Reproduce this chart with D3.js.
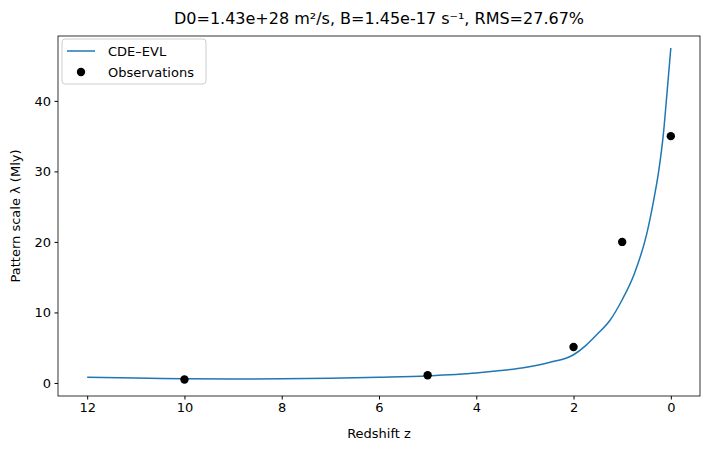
<!DOCTYPE html>
<html><head><meta charset="utf-8">
<script src="https://cdn.jsdelivr.net/npm/d3@7"></script>
<style>body{margin:0;background:#fff;font-family:"DejaVu Sans",sans-serif}</style>
</head><body><svg id="chart" width="710" height="449"></svg>
<script>
var curveZ = [12, 11, 10, 9, 8, 7, 6, 5, 4, 3.5, 3, 2.5, 2, 1.75, 1.5, 1.25, 1, 0.75, 0.5, 0.35, 0.25, 0.15, 0.08, 0];
var curveL = [0.8, 0.7, 0.6, 0.55, 0.58, 0.65, 0.8, 1.0, 1.4, 1.75, 2.2, 2.9, 4.0, 5.3, 7.0, 8.9, 11.8, 15.5, 21, 26, 30, 35.5, 41, 47.5];
var obsZ = [10, 5, 2, 1, 0];
var obsL = [0.5, 1.1, 5.1, 20, 35];
var xTicks = [12, 10, 8, 6, 4, 2, 0];
var yTicks = [0, 10, 20, 30, 40];

var m = {left: 58, right: 700, top: 36, bottom: 396};
var svg = d3.select("#chart");
var x = d3.scaleLinear().domain([12.6, -0.6]).range([m.left, m.right]);
var y = d3.scaleLinear().domain([-1.85, 49.2]).range([m.bottom, m.top]);

svg.append("g").attr("transform", "translate(0," + m.bottom + ")")
    .call(d3.axisBottom(x).tickValues(xTicks).tickSize(3.5).tickPadding(3.5))
    .call(g => g.select(".domain").remove());
svg.append("g").attr("transform", "translate(" + m.left + ",0)")
    .call(d3.axisLeft(y).tickValues(yTicks).tickSize(3.5).tickPadding(3.5))
    .call(g => g.select(".domain").remove());
svg.selectAll(".tick text").attr("font-size", 13).attr("font-family", "DejaVu Sans").attr("fill", "#000");
svg.selectAll(".tick line").attr("stroke", "#000");

svg.append("rect").attr("x", m.left).attr("y", m.top)
    .attr("width", m.right - m.left).attr("height", m.bottom - m.top)
    .attr("fill", "none").attr("stroke", "#000").attr("stroke-width", 0.8);

var line = d3.line().x((d, i) => x(curveZ[i])).y(d => y(d)).curve(d3.curveMonotoneX);
svg.append("path").datum(curveL).attr("d", line)
    .attr("fill", "none").attr("stroke", "#1f77b4").attr("stroke-width", 1.5);

svg.selectAll(".dot").data(obsZ).enter().append("circle")
    .attr("cx", d => x(d)).attr("cy", (d, i) => y(obsL[i])).attr("r", 4.2).attr("fill", "#000");

svg.append("text").attr("x", (m.left + m.right) / 2).attr("y", 24).attr("text-anchor", "middle")
    .attr("font-size", 16).text("D0=1.43e+28 m\u00b2/s, B=1.45e-17 s\u207b\u00b9, RMS=27.67%");
svg.append("text").attr("x", (m.left + m.right) / 2).attr("y", 438).attr("text-anchor", "middle")
    .attr("font-size", 13).text("Redshift z");
svg.append("text").attr("transform", "translate(20," + ((m.top + m.bottom) / 2) + ") rotate(-90)")
    .attr("text-anchor", "middle").attr("font-size", 13).text("Pattern scale \u03bb (Mly)");

var lg = svg.append("g");
lg.append("rect").attr("x", 62).attr("y", 39).attr("width", 144).attr("height", 45).attr("rx", 3)
    .attr("fill", "#fff").attr("stroke", "#ccc");
lg.append("line").attr("x1", 67).attr("x2", 95).attr("y1", 51).attr("y2", 51)
    .attr("stroke", "#1f77b4").attr("stroke-width", 1.5);
lg.append("circle").attr("cx", 81).attr("cy", 72).attr("r", 4.2).attr("fill", "#000");
lg.append("text").attr("x", 108).attr("y", 56).attr("font-size", 13).text("CDE\u2013EVL");
lg.append("text").attr("x", 108).attr("y", 77).attr("font-size", 13).text("Observations");
</script></body></html>
